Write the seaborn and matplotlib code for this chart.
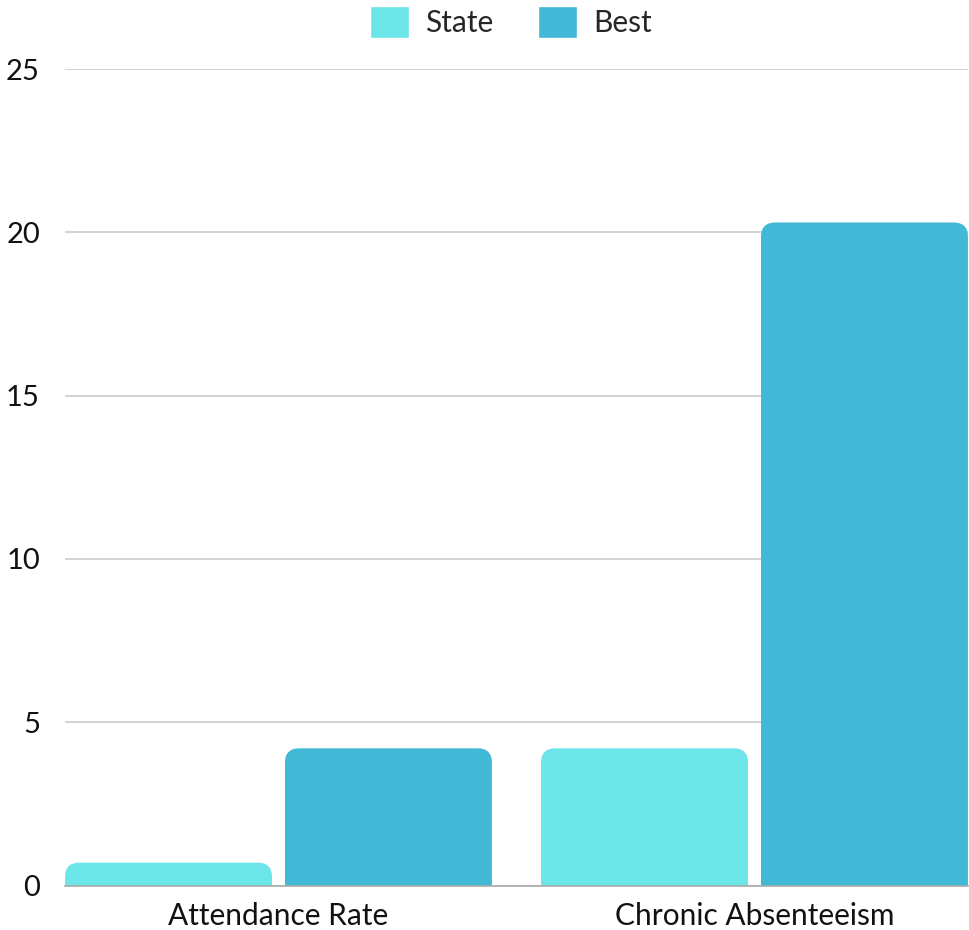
import matplotlib
matplotlib.use("Agg")
import matplotlib.pyplot as plt
import seaborn as sns
import pandas as pd
from matplotlib.patches import FancyBboxPatch

categories = ["Attendance Rate", "Chronic Absenteeism"]
series = ["State", "Best"]
state_values = [0.7, 4.2]
best_values = [4.2, 20.3]
colors = {"State": "#6ce5e8", "Best": "#41b8d5"}
y_ticks = [0, 5, 10, 15, 20, 25]

df = pd.DataFrame({
    "category": categories * 2,
    "series": ["State"] * 2 + ["Best"] * 2,
    "value": state_values + best_values,
})

sns.set_theme(style="white")
plt.rcParams["font.family"] = ["Lato", "DejaVu Sans"]

fig = plt.figure(figsize=(9.7, 9.3), dpi=100)
ax = fig.add_axes([65 / 970, (930 - 885.5) / 930, (968 - 65) / 970, (885.5 - 69) / 930])

sns.barplot(data=df, x="category", y="value", hue="series", hue_order=series,
            palette=colors, width=0.924, gap=0.059, ax=ax, legend=True,
            saturation=1, zorder=3)

ax.set_ylim(0, 25)
ax.set_xlim(-0.4485, 1.4485)

# rounded-top bars (bottom extends below the axis and is clipped)
bars = [p for p in ax.patches if p.get_height() > 0 and p.get_width() < 1]
for p in list(bars):
    x, w, h = p.get_x(), p.get_width(), p.get_height()
    fc = p.get_facecolor()
    p.set_visible(False)
    rb = FancyBboxPatch((x, -2), w, h + 2,
                        boxstyle="round,pad=0,rounding_size=0.03",
                        mutation_aspect=25 / (816.5 / 476),
                        facecolor=fc, edgecolor="none", zorder=3)
    ax.add_patch(rb)

ax.set_yticks(y_ticks)
ax.yaxis.grid(True, color="#cccccc", linewidth=1.2, zorder=0)
ax.xaxis.grid(False)
for s in ["top", "right", "left"]:
    ax.spines[s].set_visible(False)
ax.spines["bottom"].set_color("#aaaaaa")
ax.spines["bottom"].set_linewidth(1.2)
ax.spines["bottom"].set_zorder(4)
ax.set_xlabel("")
ax.set_ylabel("")
ax.tick_params(axis="y", length=0, pad=18, labelsize=21, labelcolor="#111111")
ax.tick_params(axis="x", length=0, pad=12, labelsize=21.5, labelcolor="#111111")

handles, labels = ax.get_legend_handles_labels()
ax.get_legend().remove()
fig.legend(handles, labels, loc="center", bbox_to_anchor=(0.527, 1 - 22 / 930),
           ncol=2, frameon=False, fontsize=21.5, handlelength=1.3, handleheight=1.3,
           handletextpad=0.55, columnspacing=1.5)

fig.savefig("out.png", dpi=100)
